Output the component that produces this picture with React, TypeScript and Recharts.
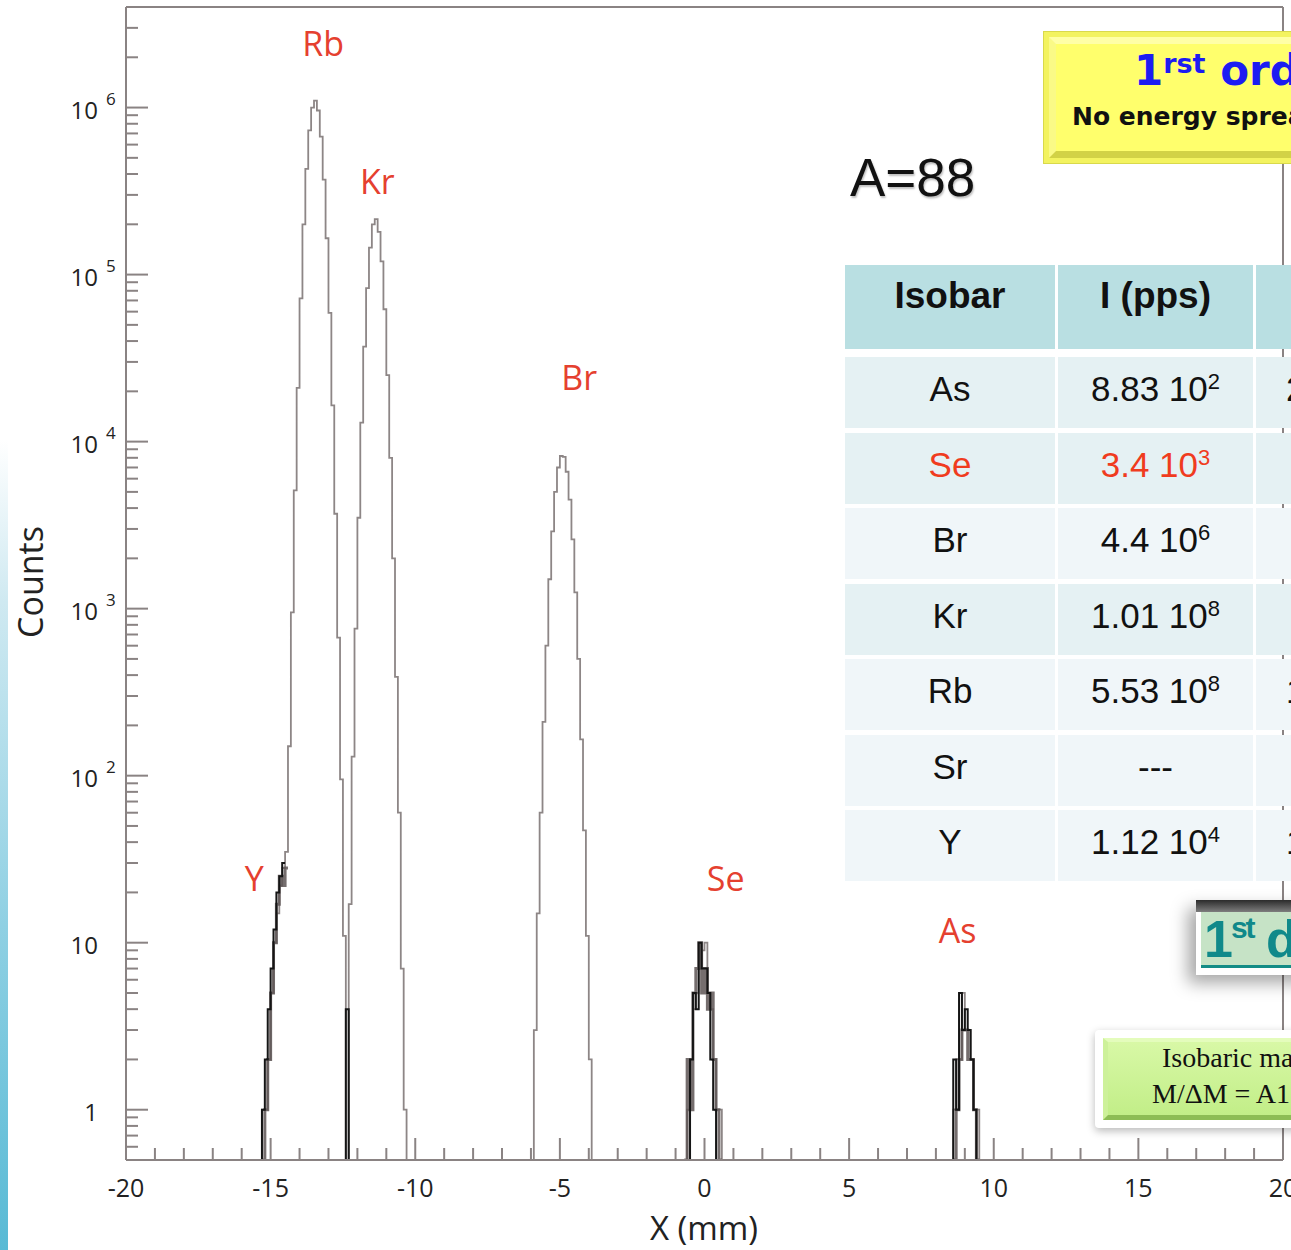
import React from "react";
import {
  LineChart,
  Line,
  XAxis,
  YAxis,
  ReferenceDot,
  ReferenceLine,
  Label,
} from "recharts";

// ── Binning / axis range ───────────────────────────────────────────

const BIN_WIDTH = 0.1; // mm
const X_MIN = -20;
const X_MAX = 20;
const F = 0.5; // bottom of the log axis, used for empty bins
const Y_TOP = 4e6;

type Segment = { start: number; counts: number[] };

// ── Grey histogram (left bin edge + counts per 0.1 mm bin) ─────────

const yTail: Segment = { start: -15.3, counts: [1, 1, 2, 5, 10, 15, 22, 28, 35] };
const rbPeak: Segment = {
  start: -14.4,
  counts: [150, 950, 5100, 21000, 72000, 200000, 430000, 730000, 1000000, 1100000,
    960000, 670000, 370000, 165000, 59000, 16500, 3700, 670, 95, 11],
};
const krPeak: Segment = {
  start: -12.3,
  counts: [17, 130, 760, 3500, 13000, 37000, 83000, 145000, 200000, 215000,
    180000, 120000, 62000, 25000, 8000, 2000, 390, 60, 7, 1],
};
const brPeak: Segment = {
  start: -5.9,
  counts: [3, 15, 60, 210, 600, 1500, 2900, 5000, 7000, 8200,
    8100, 6600, 4500, 2600, 1250, 500, 165, 47, 11, 2],
};
const sePeak: Segment = { start: -0.6, counts: [1, 2, 4, 5, 7, 9, 10, 5, 4, 2, 1, 1] };
const asPeak: Segment = { start: 8.6, counts: [1, 2, 2, 5, 3, 3, 2, 1, 1] };

// ── Darker overlapping low-statistics histograms ───────────────────

const darkA: Segment[] = [
  { start: -15.4, counts: [F, 1, 2, 4, 7, 12, 20, 25, 30] },
  { start: -12.5, counts: [F, 4, F] },
  { start: -0.6, counts: [F, 2, 5, 4, 10, 7, 7, 5, 2, 1, F] },
  { start: 8.5, counts: [F, 2, 1, 5, 3, 4, 3, 2, 1, F] },
];
const darkB: Segment[] = [
  { start: -15.3, counts: [F, 1, 2, 5, 10, 17, 25, 22, 28] },
  { start: -0.7, counts: [F, 2, 1, 5, 7, 10, 5, 7, 4, 5, 2, 1, F] },
  { start: 8.6, counts: [F, 1, 2, 3, 3, 2, 2, 1, F] },
];

// ── Ticks / labels ─────────────────────────────────────────────────

const X_TICKS = Array.from({ length: 41 }, (_, i) => X_MIN + i);
const Y_DECADES = [1, 10, 100, 1000, 1e4, 1e5, 1e6];
const MINOR_STEPS = [2, 3, 4, 5, 6, 7, 8, 9];
const Y_BELOW_ONE = [0.6, 0.7, 0.8, 0.9];

const PEAK_LABELS = [
  { name: "Rb", x: -13.18, y: 2.4e6 },
  { name: "Kr", x: -11.31, y: 3.6e5 },
  { name: "Br", x: -4.33, y: 2.4e4 },
  { name: "Y", x: -15.57, y: 24 },
  { name: "Se", x: 0.73, y: 24 },
  { name: "As", x: 8.75, y: 11.8 },
];

// ── Table ──────────────────────────────────────────────────────────

const ISOBARS = ["As", "Se", "Br", "Kr", "Rb", "Sr", "Y"];
const RATE_MANTISSA = ["8.83", "3.4", "4.4", "1.01", "5.53", "---", "1.12"];
const RATE_EXPONENT = ["2", "3", "6", "8", "8", "", "4"];
const THIRD_COL = ["2", "", "", "", "1", "", "1"];
const HIGHLIGHTED = "Se";

// ── Styles ─────────────────────────────────────────────────────────

const AXIS = "#8a8383";
const TEXT = "#222";
const RED = "#e5402f";
const PLOT_FONT = "'Open Sans', 'DejaVu Sans', sans-serif";
const ARIAL = "'Liberation Sans', Arial, sans-serif";
const COL_W = [210, 195, 200];
const ROW_BG = ["#e5f1f3", "#e5f1f3", "#f0f6f9", "#e5f1f3", "#f0f6f9", "#f0f6f9", "#f0f6f9"];

// ── Build the histogram table ──────────────────────────────────────

const binIndex = (x: number) => Math.round((x - X_MIN) / BIN_WIDTH);

type Row = { x: number; main: number; darkA: number | null; darkB: number | null };

const rows: Row[] = Array.from({ length: binIndex(X_MAX) + 1 }, (_, i) => ({
  x: Math.round((X_MIN + i * BIN_WIDTH) * 10) / 10,
  main: F,
  darkA: null,
  darkB: null,
}));

function place(key: "main" | "darkA" | "darkB", segs: Segment[]) {
  segs.forEach(({ start, counts }) => {
    const i0 = binIndex(start);
    counts.forEach((c, k) => {
      (rows[i0 + k] as any)[key] = c;
    });
    const end = i0 + counts.length;
    if (key !== "main" && rows[end] && rows[end][key] == null) {
      (rows[end] as any)[key] = counts[counts.length - 1];
    }
  });
}

place("main", [yTail, rbPeak, krPeak, brPeak, sePeak, asPeak]);
place("darkA", darkA);
place("darkB", darkB);

const yTicks = [
  ...Y_BELOW_ONE,
  ...Y_DECADES.flatMap((d) => [d, ...MINOR_STEPS.map((s) => s * d)]),
].filter((t) => t < Y_TOP);

// ── Tick renderers ─────────────────────────────────────────────────

function XTick(props: any) {
  const { x, y, payload } = props;
  const v = payload.value as number;
  const major = v % 5 === 0;
  return (
    <g>
      <line x1={x} x2={x} y1={y} y2={y - (major ? 22 : 12)} stroke={AXIS} strokeWidth={2} />
      {major && (
        <text x={x} y={y + 37} textAnchor="middle" fill={TEXT} fontSize={25} fontFamily={PLOT_FONT}>
          {v}
        </text>
      )}
    </g>
  );
}

function YTick(props: any) {
  const { x, y, payload } = props;
  const v = payload.value as number;
  const exp = Math.round(Math.log10(v));
  const major = Math.abs(Math.log10(v) - exp) < 1e-6;
  return (
    <g>
      <line x1={x} x2={x + (major ? 22 : 12)} y1={y} y2={y} stroke={AXIS} strokeWidth={2} />
      {major && (
        <text x={x - 28} y={y + 11} textAnchor="end" fill={TEXT} fontSize={24} fontFamily={PLOT_FONT}>
          {exp === 0 ? "1" : "10"}
        </text>
      )}
      {major && exp >= 2 && (
        <text x={x - 20} y={y - 3} fill={TEXT} fontSize={17} fontFamily={PLOT_FONT}>
          {exp}
        </text>
      )}
    </g>
  );
}

// ── Component ──────────────────────────────────────────────────────

export default function App() {
  return (
    <div
      style={{
        position: "absolute",
        left: 0,
        top: 0,
        width: 1291,
        height: 1250,
        overflow: "hidden",
        background: "#fff",
      }}
    >
      {/* slide edge */}
      <div
        style={{
          position: "absolute",
          left: 0,
          top: 440,
          width: 8,
          height: 810,
          background: "linear-gradient(to bottom, rgba(220,240,246,0) 0%, #cfe9f1 20%, #8fd0e3 60%, #58bad5 100%)",
        }}
      />

      <div style={{ position: "absolute", left: 0, top: 0 }}>
        <LineChart width={1291} height={1250} data={rows} margin={{ top: 7, right: 8, left: 0, bottom: 0 }}>
          <XAxis
            dataKey="x"
            type="number"
            domain={[X_MIN, X_MAX]}
            ticks={X_TICKS}
            interval={0}
            allowDataOverflow
            height={90}
            tickSize={0}
            tickMargin={0}
            tickLine={false}
            axisLine={{ stroke: AXIS, strokeWidth: 2 }}
            tick={(p: any) => <XTick {...p} />}
          >
            <Label
              content={() => (
                <text x={704} y={1240} textAnchor="middle" fill={TEXT} fontSize={33} fontFamily={PLOT_FONT}>
                  X (mm)
                </text>
              )}
            />
          </XAxis>
          <YAxis
            type="number"
            scale="log"
            domain={[F, Y_TOP]}
            ticks={yTicks}
            interval={0}
            allowDataOverflow
            width={126}
            tickSize={0}
            tickMargin={0}
            tickLine={false}
            axisLine={{ stroke: AXIS, strokeWidth: 2 }}
            tick={(p: any) => <YTick {...p} />}
          >
            <Label
              content={() => (
                <text
                  x={43}
                  y={582}
                  transform="rotate(-90 43 582)"
                  textAnchor="middle"
                  fill={TEXT}
                  fontSize={34}
                  fontFamily={PLOT_FONT}
                >
                  Counts
                </text>
              )}
            />
          </YAxis>
          <ReferenceLine y={Y_TOP} stroke={AXIS} strokeWidth={2} />
          <ReferenceLine x={X_MAX} stroke={AXIS} strokeWidth={2} />
          <Line
            dataKey="main"
            type="stepAfter"
            stroke="#8d8686"
            strokeWidth={1.8}
            dot={false}
            isAnimationActive={false}
          />
          <Line
            dataKey="darkB"
            type="stepAfter"
            stroke="#5d5555"
            strokeWidth={3}
            strokeOpacity={0.85}
            dot={false}
            isAnimationActive={false}
          />
          <Line
            dataKey="darkA"
            type="stepAfter"
            stroke="#151515"
            strokeWidth={2}
            dot={false}
            isAnimationActive={false}
          />
          {PEAK_LABELS.map((l) => (
            <ReferenceDot
              key={l.name}
              x={l.x}
              y={l.y}
              r={0}
              fill="none"
              stroke="none"
              label={{ value: l.name, position: "center", fill: RED, fontSize: 34, fontFamily: PLOT_FONT }}
            />
          ))}
        </LineChart>
      </div>

      {/* A=88 */}
      <div
        style={{
          position: "absolute",
          left: 850,
          top: 151,
          fontFamily: ARIAL,
          fontSize: 53,
          lineHeight: 1,
          color: "#111",
          textShadow: "1px 2px 2px rgba(0,0,0,0.25)",
          whiteSpace: "nowrap",
        }}
      >
        A=88
      </div>

      {/* yellow box */}
      <div
        style={{
          position: "absolute",
          left: 1043,
          top: 31,
          width: 320,
          height: 133,
          boxSizing: "border-box",
          background: "#f3f360",
          border: "1px solid #d9d94c",
        }}
      >
        <div
          style={{
            position: "absolute",
            left: 5,
            top: 5,
            right: 5,
            bottom: 5,
            background: "#ffff6c",
            borderTop: "7px solid #ffffa6",
            borderLeft: "7px solid #fafa86",
            borderBottom: "7px solid #d2d246",
            borderRight: "7px solid #e0e050",
          }}
        />
        <div
          style={{
            position: "absolute",
            left: 90,
            top: 18,
            color: "#1c1cf2",
            fontWeight: 700,
            fontSize: 42,
            lineHeight: 1,
            fontFamily: "'DejaVu Sans', sans-serif",
            whiteSpace: "nowrap",
          }}
        >
          1<span style={{ fontSize: 27, verticalAlign: "top" }}>rst</span> order
        </div>
        <div
          style={{
            position: "absolute",
            left: 28,
            top: 72,
            color: "#111",
            fontWeight: 700,
            fontSize: 25,
            lineHeight: 1,
            fontFamily: "'DejaVu Sans', sans-serif",
            whiteSpace: "nowrap",
          }}
        >
          No energy spread
        </div>
      </div>

      {/* table */}
      <div style={{ position: "absolute", left: 845, top: 265, width: 620, fontFamily: ARIAL, color: "#111" }}>
        <div style={{ display: "flex", gap: 3, height: 84 }}>
          {["Isobar", "I (pps)", ""].map((h, i) => (
            <div
              key={i}
              style={{
                width: COL_W[i],
                flex: "none",
                background: "#b9dfe2",
                fontWeight: 700,
                fontSize: 37,
                lineHeight: 1,
                textAlign: "center",
                paddingTop: 12,
                boxSizing: "border-box",
              }}
            >
              {h}
            </div>
          ))}
        </div>
        {ISOBARS.map((iso, r) => {
          const color = iso === HIGHLIGHTED ? "#f03c1e" : "#111";
          const cell = {
            flex: "none",
            background: ROW_BG[r],
            fontSize: 35,
            lineHeight: 1,
            paddingTop: 14,
            boxSizing: "border-box" as const,
            color,
            whiteSpace: "nowrap" as const,
          };
          return (
            <div key={iso} style={{ display: "flex", gap: 3, height: 71, marginTop: r === 0 ? 8 : 4.5 }}>
              <div style={{ ...cell, width: COL_W[0], textAlign: "center" }}>{iso}</div>
              <div style={{ ...cell, width: COL_W[1], textAlign: "center" }}>
                {RATE_MANTISSA[r]}
                {RATE_EXPONENT[r] && (
                  <>
                    {" 10"}
                    <span style={{ fontSize: 22, verticalAlign: "top" }}>{RATE_EXPONENT[r]}</span>
                  </>
                )}
              </div>
              <div style={{ ...cell, width: COL_W[2], paddingLeft: 30 }}>{THIRD_COL[r]}</div>
            </div>
          );
        })}
      </div>

      {/* "1st d" box */}
      <div
        style={{
          position: "absolute",
          left: 1196,
          top: 900,
          width: 130,
          height: 75,
          background: "#fff",
          boxShadow: "-8px 8px 16px rgba(0,0,0,0.35)",
        }}
      >
        <div
          style={{
            position: "absolute",
            left: 0,
            top: 0,
            right: 0,
            height: 12,
            background: "linear-gradient(#2b2b2b, #7d7d7d)",
          }}
        />
        <div
          style={{
            position: "absolute",
            left: 5,
            top: 12,
            right: 0,
            height: 53,
            background: "#c6e3c6",
            borderBottom: "3px solid #138c86",
          }}
        />
        <div
          style={{
            position: "absolute",
            left: 8,
            top: 13,
            color: "#10898a",
            fontWeight: 700,
            fontSize: 52,
            lineHeight: 1,
            fontFamily: "'Liberation Sans Narrow', 'Liberation Sans', sans-serif",
            letterSpacing: -2,
            whiteSpace: "nowrap",
          }}
        >
          1<span style={{ fontSize: 30, verticalAlign: "top" }}>st</span> d
        </div>
      </div>

      {/* isobaric box */}
      <div
        style={{
          position: "absolute",
          left: 1095,
          top: 1030,
          width: 230,
          height: 98,
          background: "#fff",
          borderRadius: 4,
          boxShadow: "0 3px 8px rgba(0,0,0,0.28)",
        }}
      >
        <div
          style={{
            position: "absolute",
            left: 8,
            top: 8,
            right: 0,
            bottom: 8,
            background: "linear-gradient(#d8f8a6, #c2ee88)",
            borderTop: "4px solid #e4fcbc",
            borderLeft: "5px solid #cdf19a",
            borderBottom: "5px solid #8dbd55",
          }}
        />
        <div
          style={{
            position: "absolute",
            left: 67,
            top: 14,
            fontFamily: "'Liberation Serif', serif",
            fontSize: 28,
            lineHeight: 1,
            color: "#111",
            whiteSpace: "nowrap",
          }}
        >
          Isobaric mass
        </div>
        <div
          style={{
            position: "absolute",
            left: 57,
            top: 50,
            fontFamily: "'Liberation Serif', serif",
            fontSize: 28,
            lineHeight: 1,
            color: "#111",
            whiteSpace: "nowrap",
          }}
        >
          M/ΔM = A1
        </div>
      </div>
    </div>
  );
}
